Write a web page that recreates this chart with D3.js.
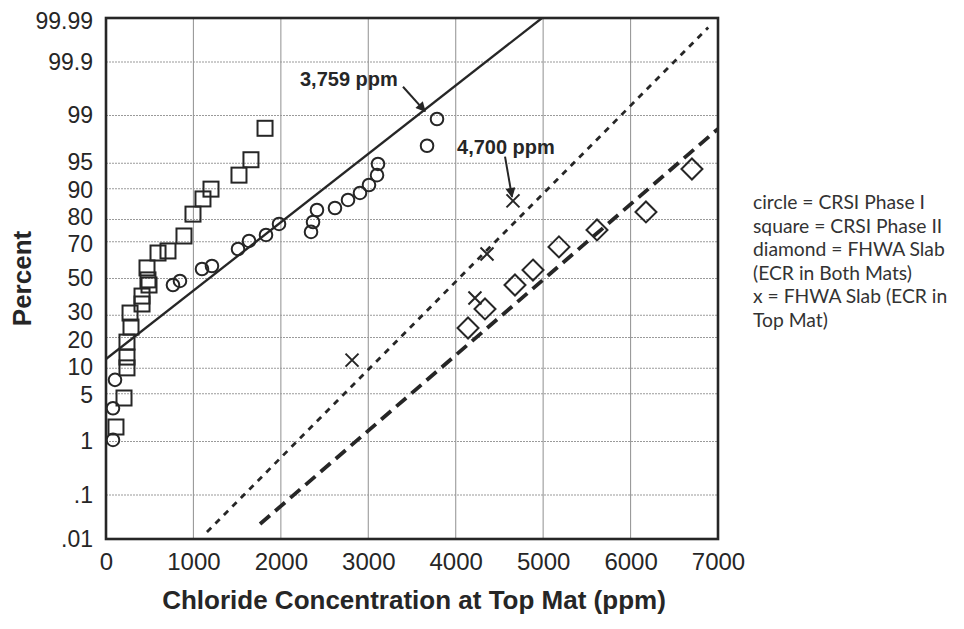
<!DOCTYPE html>
<html>
<head>
<meta charset="utf-8">
<script src="https://cdn.jsdelivr.net/npm/d3@7"></script>
<style>
  body { margin: 0; background: #fff; }
  svg { display: block; }
</style>
</head>
<body>
<svg id="chart" width="964" height="629"></svg>
<script>
// ---------------- data ----------------
const xTicks = [0, 1000, 2000, 3000, 4000, 5000, 6000, 7000];
const yTicks = [0.01, 0.1, 1, 5, 10, 20, 30, 50, 70, 80, 90, 95, 99, 99.9, 99.99];
const yTickLabels = [".01", ".1", "1", "5", "10", "20", "30", "50", "70", "80", "90", "95", "99", "99.9", "99.99"];

// CRSI Phase I (circles): [ppm, percent]
const circlePpm = [80, 80, 103, 766, 846, 1098, 1212, 1510, 1636, 1830, 1979, 2345, 2368, 2413, 2619, 2768, 2905, 3008, 3100, 3111, 3672, 3786];
const circlePct = [1.06, 3.2, 7.4, 46.3, 48.6, 55.4, 57.1, 66.3, 70.4, 73.3, 78.2, 74.7, 79.0, 83.6, 84.3, 86.9, 88.9, 90.9, 93.0, 94.9, 97.1, 98.86];

// CRSI Phase II (squares)
const squarePpm = [114, 206, 240, 240, 240, 286, 275, 412, 412, 480, 492, 469, 595, 709, 892, 995, 1109, 1201, 1521, 1658, 1819];
const squarePct = [1.7, 4.4, 10.1, 13.1, 18.2, 24.4, 31.1, 35.8, 40.1, 49.2, 46.3, 56.0, 64.2, 65.3, 72.8, 82.1, 87.2, 89.9, 93.0, 95.5, 98.4];

// FHWA Slab, ECR in both mats (diamonds)
const diamondPpm = [4141, 4335, 4678, 4884, 5181, 5616, 6176, 6702];
const diamondPct = [24.0, 33.2, 46.3, 54.8, 67.4, 75.6, 82.9, 94.1];

// FHWA Slab, ECR in top mat (x)
const crossPpm = [2814, 4220, 4358, 4655];
const crossPct = [12.2, 39.0, 63.7, 86.6];

// fitted lines: endpoints [ppm, percent]
const solidLinePpm = [0, 4987];
const solidLinePct = [12.53, 99.99];
const dottedLinePpm = [1155, 6888];
const dottedLinePct = [0.0148, 99.983];
const dashedLinePpm = [1762, 7000];
const dashedLinePct = [0.0228, 98.37];

// annotations
const annotText = ["3,759 ppm", "4,700 ppm"];
const annotTextPpm = [2219, 4015];
const annotTextPct = [99.78, 96.97];
const arrowFromPpm = [3397, 4564];
const arrowFromPct = [99.69, 95.9];
const arrowToPpm = [3650, 4644];
const arrowToPct = [99.15, 87.8];

const legendLines = ["circle = CRSI Phase I", "square = CRSI Phase II", "diamond = FHWA Slab", "(ECR in Both Mats)", "x = FHWA Slab (ECR in", "Top Mat)"];

// ---------------- helpers ----------------
function probit(p) {
  // Acklam's inverse normal CDF
  const a = [-3.969683028665376e+01, 2.209460984245205e+02, -2.759285104469687e+02, 1.383577518672690e+02, -3.066479806614716e+01, 2.506628277459239e+00];
  const b = [-5.447609879822406e+01, 1.615858368580409e+02, -1.556989798598866e+02, 6.680131188771972e+01, -1.328068155288572e+01];
  const c = [-7.784894002430293e-03, -3.223964580411365e-01, -2.400758277161838e+00, -2.549732539343734e+00, 4.374664141464968e+00, 2.938163982698783e+00];
  const d = [7.784695709041462e-03, 3.224671290700398e-01, 2.445134137142996e+00, 3.754408661907416e+00];
  const pl = 0.02425, ph = 1 - pl;
  let q, r;
  if (p < pl) {
    q = Math.sqrt(-2 * Math.log(p));
    return (((((c[0]*q+c[1])*q+c[2])*q+c[3])*q+c[4])*q+c[5]) / ((((d[0]*q+d[1])*q+d[2])*q+d[3])*q+1);
  } else if (p <= ph) {
    q = p - 0.5; r = q * q;
    return (((((a[0]*r+a[1])*r+a[2])*r+a[3])*r+a[4])*r+a[5])*q / (((((b[0]*r+b[1])*r+b[2])*r+b[3])*r+b[4])*r+1);
  } else {
    q = Math.sqrt(-2 * Math.log(1 - p));
    return -(((((c[0]*q+c[1])*q+c[2])*q+c[3])*q+c[4])*q+c[5]) / ((((d[0]*q+d[1])*q+d[2])*q+d[3])*q+1);
  }
}

// ---------------- layout ----------------
const L = 106, R = 718, T = 18, B = 539;
const ink = "#262626";
const svg = d3.select("#chart");

const x = d3.scaleLinear().domain([0, 7000]).range([L, R]);
const yz = d3.scaleLinear().domain([probit(0.0001), probit(0.9999)]).range([B, T]);
const y = pct => yz(probit(pct / 100));

// small vertical label nudges so crowded tick labels do not collide (layout only)
const labelNudge = { "80": -2.8, "70": 2.8, "30": -2.6, "20": 2.6, "95": -1.6, "90": 1.6, "10": -1.6, "5": 1.6, "99.99": 3 };

const defs = svg.append("defs");
defs.append("clipPath").attr("id", "plotclip")
  .append("rect").attr("x", L).attr("y", T).attr("width", R - L).attr("height", B - T);
defs.append("marker")
  .attr("id", "arrowhead").attr("viewBox", "0 0 10 10")
  .attr("refX", 9).attr("refY", 5)
  .attr("markerWidth", 5.5).attr("markerHeight", 5)
  .attr("markerUnits", "strokeWidth")
  .attr("orient", "auto")
  .append("path").attr("d", "M0,0 L10,5 L0,10 Z").attr("fill", ink);

// gridlines
const grid = svg.append("g");
grid.selectAll("line.v").data(xTicks.slice(1, -1)).join("line")
  .attr("x1", d => x(d)).attr("x2", d => x(d))
  .attr("y1", T).attr("y2", B)
  .attr("stroke", "#9a9a9a").attr("stroke-width", 1.1);
grid.selectAll("line.h").data(yTicks.slice(1, -1)).join("line")
  .attr("x1", L).attr("x2", R)
  .attr("y1", d => y(d)).attr("y2", d => y(d))
  .attr("stroke", "#9a9a9a").attr("stroke-width", 1.1).attr("stroke-dasharray", "2,1");

// axes
const xAxis = d3.axisBottom(x).tickValues(xTicks).tickSize(0).tickPadding(14).tickFormat(d3.format("d"));
const gx = svg.append("g").attr("transform", `translate(0,${B})`).call(xAxis);
gx.select(".domain").remove();
gx.selectAll("text").attr("font-family", "Liberation Sans, Arial, sans-serif").attr("font-size", 24).attr("fill", ink);

const yAxis = d3.axisLeft(yz).tickValues(yTicks.map(p => probit(p / 100))).tickSize(0).tickPadding(13)
  .tickFormat((d, i) => yTickLabels[i]);
const gy = svg.append("g").attr("transform", `translate(${L},0)`).call(yAxis);
gy.select(".domain").remove();
gy.selectAll("text").attr("font-family", "Liberation Sans, Arial, sans-serif").attr("font-size", 23).attr("fill", ink)
  .attr("y", function () { return labelNudge[this.textContent] || 0; });

// fit lines
const plot = svg.append("g").attr("clip-path", "url(#plotclip)");
const lineGen = d3.line().x(d => x(d[0])).y(d => y(d[1]));
plot.append("path").datum(d3.zip(solidLinePpm, solidLinePct)).attr("d", lineGen)
  .attr("fill", "none").attr("stroke", ink).attr("stroke-width", 2.3);
plot.append("path").datum(d3.zip(dottedLinePpm, dottedLinePct)).attr("d", lineGen)
  .attr("fill", "none").attr("stroke", ink).attr("stroke-width", 2.8).attr("stroke-dasharray", "6,6");
plot.append("path").datum(d3.zip(dashedLinePpm, dashedLinePct)).attr("d", lineGen)
  .attr("fill", "none").attr("stroke", ink).attr("stroke-width", 3.8).attr("stroke-dasharray", "13,7");

// markers
const mk = svg.append("g").attr("fill", "none").attr("stroke", ink).attr("stroke-width", 2);
mk.selectAll("circle").data(d3.zip(circlePpm, circlePct)).join("circle")
  .attr("cx", d => x(d[0])).attr("cy", d => y(d[1])).attr("r", 6.3).attr("fill", "none");
mk.selectAll("rect").data(d3.zip(squarePpm, squarePct)).join("rect")
  .attr("x", d => x(d[0]) - 7.5).attr("y", d => y(d[1]) - 7.5).attr("width", 15).attr("height", 15).attr("fill", "none");
mk.selectAll("path.dia").data(d3.zip(diamondPpm, diamondPct)).join("path").attr("class", "dia")
  .attr("d", d => { const cx = x(d[0]), cy = y(d[1]), s = 10.5; return `M${cx},${cy - s}L${cx + s},${cy}L${cx},${cy + s}L${cx - s},${cy}Z`; });
mk.selectAll("path.cross").data(d3.zip(crossPpm, crossPct)).join("path").attr("class", "cross")
  .attr("d", d => { const cx = x(d[0]), cy = y(d[1]), s = 6.5; return `M${cx - s},${cy - s}L${cx + s},${cy + s}M${cx - s},${cy + s}L${cx + s},${cy - s}`; });

// frame
svg.append("rect").attr("x", L).attr("y", T).attr("width", R - L).attr("height", B - T)
  .attr("fill", "none").attr("stroke", ink).attr("stroke-width", 2.6);

// annotations
const ann = svg.append("g");
ann.selectAll("text").data(annotText).join("text")
  .attr("x", (d, i) => x(annotTextPpm[i])).attr("y", (d, i) => y(annotTextPct[i]))
  .attr("dy", "0.35em")
  .attr("font-family", "Liberation Sans, Arial, sans-serif").attr("font-weight", "bold")
  .attr("font-size", 20).attr("fill", ink).text(d => d);
ann.selectAll("line").data(annotText).join("line")
  .attr("x1", (d, i) => x(arrowFromPpm[i])).attr("y1", (d, i) => y(arrowFromPct[i]))
  .attr("x2", (d, i) => x(arrowToPpm[i])).attr("y2", (d, i) => y(arrowToPct[i]))
  .attr("stroke", ink).attr("stroke-width", 2).attr("marker-end", "url(#arrowhead)");

// axis titles
svg.append("text").attr("x", (L + R) / 2 + 2).attr("y", 609)
  .attr("text-anchor", "middle")
  .attr("font-family", "Liberation Sans, Arial, sans-serif").attr("font-weight", "bold")
  .attr("font-size", 26).attr("fill", ink)
  .text("Chloride Concentration at Top Mat (ppm)");
svg.append("text").attr("transform", `translate(31,${(T + B) / 2}) rotate(-90)`)
  .attr("text-anchor", "middle")
  .attr("font-family", "Liberation Sans, Arial, sans-serif").attr("font-weight", "bold")
  .attr("font-size", 26).attr("fill", ink)
  .text("Percent");

// legend text
svg.append("g").selectAll("text").data(legendLines).join("text")
  .attr("x", 753).attr("y", (d, i) => 209 + i * 23.6)
  .attr("font-family", "Lato, 'Open Sans', sans-serif")
  .attr("font-size", 19.3).attr("fill", "#333")
  .text(d => d);
</script>
</body>
</html>
